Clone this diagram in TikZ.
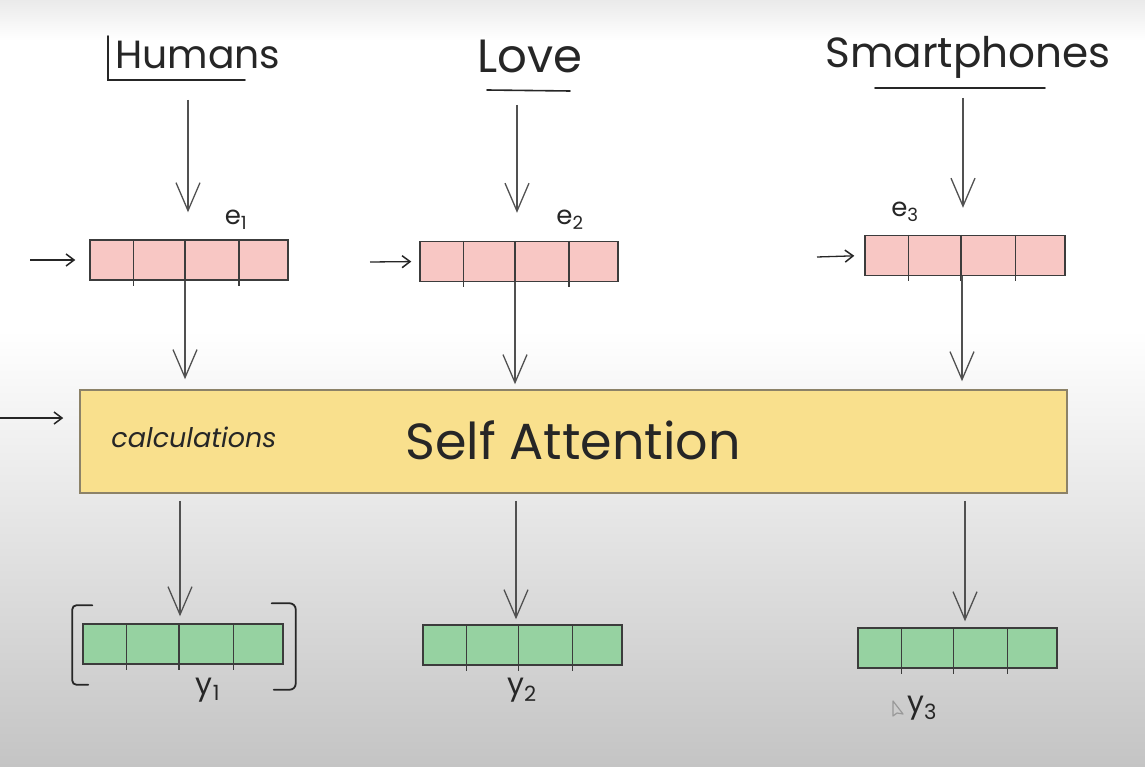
\documentclass[tikz,border=0pt]{standalone}
\usepackage{fontspec}
\setmainfont{Poppins}
\usetikzlibrary{arrows.meta,calc}
\definecolor{ink}{HTML}{262626}
\definecolor{pinkc}{HTML}{F8C7C4}
\definecolor{greenc}{HTML}{96D2A1}
\definecolor{yellowc}{HTML}{F9E08D}
\definecolor{ybord}{HTML}{8C8268}
\definecolor{bgbot}{HTML}{C4C4C4}
\definecolor{bgtop}{HTML}{EAEAEA}
\tikzset{
  word/.style={inner sep=0pt, text=ink},
  arr/.style={draw=ink!80, line width=1.3pt, -{Straight Barb[length=28pt,width=24pt,line width=1.3pt]}},
  sarr/.style={draw=ink, line width=1.5pt, -{Straight Barb[length=8pt,width=12pt,line width=1.5pt]}},
  vec/.style={draw=ink!90, line width=1.4pt, minimum width=198pt, minimum height=40pt, inner sep=0pt},
  pinkvec/.style={vec, fill=pinkc},
  greenvec/.style={vec, fill=greenc},
  uline/.style={draw=ink, line width=1.6pt, line cap=round},
}
\newcommand{\cells}[1]{%
  \foreach \f in {0.22,0.48,0.75}{
    \draw[draw=ink!90, line width=1.3pt] ($(#1.north west)!\f!(#1.north east)$) -- ($(#1.south west)!\f!(#1.south east)+(0,-5pt)$);
  }}
\begin{document}
\begin{tikzpicture}[x=1pt,y=-1pt]
\useasboundingbox (0,0) rectangle (1145,767);
% background
\fill[white] (0,0) rectangle (1145,767);
\shade[top color=bgtop, bottom color=white] (0,0) rectangle (1145,40);
\shade[top color=white, bottom color=bgbot] (0,330) rectangle (1145,767);

% words
\node[word] (hum) at (198,55) {\resizebox{165pt}{!}{Humans}};
\node[word] (love) at (530,56) {\resizebox{105pt}{!}{Love}};
\node[word] (smart) at (968,57) {\resizebox{285pt}{!}{Smartphones}};
\coordinate (hu1) at (108,80); \coordinate (hu2) at (245,80);
\draw[uline] (108,36) -- (hu1) -- (hu2);
\coordinate (lu1) at (487,90); \coordinate (lu2) at (570,91);
\draw[uline] (lu1) -- (lu2);
\coordinate (su1) at (875,88); \coordinate (su2) at (1045,88);
\draw[uline] (su1) -- (su2);

% embedding vectors
\node[pinkvec] (e1) at (189,260) {};
\node[pinkvec] (e2) at (519,261.5) {};
\node[pinkvec, minimum width=200pt] (e3) at (965,255.5) {};
\cells{e1}\cells{e2}\cells{e3}
\node[word, font=\fontsize{26}{26}\selectfont] (le1) at (236,220) {e\textsubscript{1}};
\node[word, font=\fontsize{26}{26}\selectfont] (le2) at (570,220) {e\textsubscript{2}};
\node[word, font=\fontsize{26}{26}\selectfont] (le3) at (905,212) {e\textsubscript{3}};

% word -> embedding arrows
\draw[arr, shorten <=20pt, shorten >=27pt] ([xshift=-1pt]e1.north |- hu1) -- ([xshift=-1pt]e1.north);
\draw[arr, shorten <=15pt, shorten >=28pt] ([xshift=-2pt]e2.north |- lu1) -- ([xshift=-2pt]e2.north);
\draw[arr, shorten <=10pt, shorten >=27pt] ([xshift=-2pt]e3.north |- su1) -- ([xshift=-2pt]e3.north);

% left input arrows
\coordinate (i1) at (30,260);
\coordinate (i2) at (370,262);
\coordinate (i3) at (817,257);
\draw[sarr, line width=2.2pt, shorten >=14pt] (i1) -- (e1.west);
\draw[sarr, line width=1.3pt, shorten >=8pt] (i2) -- (e2.west);
\draw[sarr, line width=1.3pt, shorten >=10pt] (i3) -- (e3.west);

% self attention block
\node[draw=ybord, line width=1.5pt, fill=yellowc, minimum width=987pt, minimum height=103pt, inner sep=0pt] (sa) at (573.5,441.5) {};
\node[word] (satext) at (573,440) {\resizebox{335pt}{!}{Self Attention}};
\node[word] (calc) at (194,437) {\resizebox{165pt}{!}{\itshape calculations}};
\coordinate (i4) at (0,418);
\draw[sarr, line width=1.3pt] (i4) -- ([xshift=-16pt]sa.west |- i4);

% embedding -> attention
\draw[arr, shorten >=10pt] ([xshift=-4pt]e1.south) -- ([xshift=-4pt]e1.south |- sa.north);
\draw[arr, shorten >=5pt] ([xshift=-4pt]e2.south) -- ([xshift=-4pt]e2.south |- sa.north);
\draw[arr, shorten >=8pt] ([xshift=-3pt]e3.south) -- ([xshift=-3pt]e3.south |- sa.north);

% outputs
\node[greenvec, minimum width=200pt] (y1) at (183,644) {};
\node[greenvec, minimum width=199pt] (y2) at (522.5,645) {};
\node[greenvec, minimum width=199pt] (y3) at (957.5,648) {};
\cells{y1}\cells{y2}\cells{y3}

\coordinate (a1) at (180,0);
\coordinate (a2) at (516,0);
\coordinate (a3) at (965,0);
\draw[arr, shorten <=7pt, shorten >=7pt] (sa.south -| a1) -- (y1.north -| a1);
\draw[arr, shorten <=7pt, shorten >=5pt] (sa.south -| a2) -- (y2.north -| a2);
\draw[arr, shorten <=7pt, shorten >=6pt] (sa.south -| a3) -- (y3.north -| a3);

% brackets around y1
\draw[uline, line width=1.8pt, rounded corners=4pt] ([xshift=10pt,yshift=18pt]y1.north west) -- ([xshift=-10pt,yshift=18pt]y1.north west) -- ([xshift=-10pt,yshift=-20pt]y1.south west) -- ([xshift=6pt,yshift=-20pt]y1.south west);
\draw[uline, line width=1.8pt, rounded corners=6pt] ([xshift=-12pt,yshift=20pt]y1.north east) -- ([xshift=12pt,yshift=20pt]y1.north east) -- ([xshift=12pt,yshift=-25pt]y1.south east) -- ([xshift=-10pt,yshift=-25pt]y1.south east);

\node[word, font=\fontsize{30}{30}\selectfont] (ly1) at (208,690) {y\textsubscript{1}};
\node[word, font=\fontsize{30}{30}\selectfont] (ly2) at (522,690) {y\textsubscript{2}};
\node[word, font=\fontsize{30}{30}\selectfont] (ly3) at (922,708) {y\textsubscript{3}};

% mouse cursor
\draw[draw=gray!80, line width=1.2pt, line join=round] (893,701) -- (893,716) -- (897,713) -- (903,714) -- cycle;
\end{tikzpicture}
\end{document}
